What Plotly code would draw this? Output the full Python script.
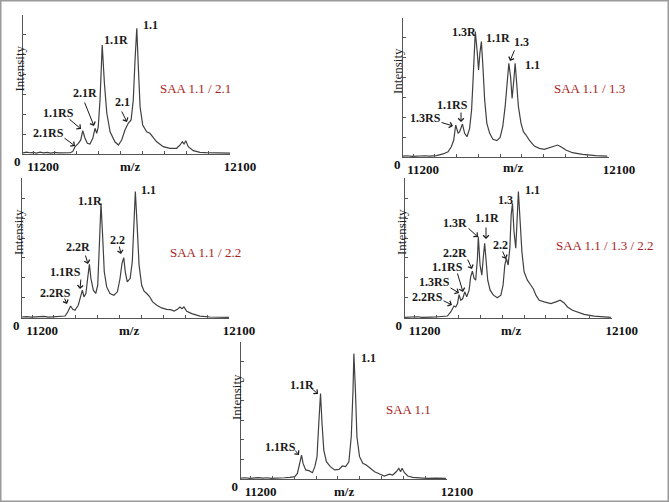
import plotly.graph_objects as go

W, H = 669, 502

# ------------------------------------------------------------------ data
mz_range = [11154, 12100]
x_tick_vals = [11200, 11300, 11400, 11500, 11600, 11700, 11800, 11900, 12000, 12100]
x_tick_text = ["11200", "", "", "", "", "", "", "", "", "12100"]
y_tick_vals = [0, 14.3, 28.6, 42.9, 57.1, 71.4, 85.7]
y_tick_text = ["0", "", "", "", "", "", ""]

sample_names = ["SAA 1.1 / 2.1", "SAA 1.1 / 1.3", "SAA 1.1 / 2.2",
                "SAA 1.1 / 1.3 / 2.2", "SAA 1.1"]

p1_mz = [11154, 11170, 11185, 11200, 11215, 11232, 11248, 11265, 11280, 11300,
         11318, 11335, 11350, 11369, 11381, 11392, 11407, 11418, 11427, 11437,
         11448, 11460, 11473, 11483, 11491, 11498, 11506, 11516, 11526, 11537,
         11552, 11574, 11590, 11605, 11620, 11635, 11648, 11658, 11666, 11674,
         11681, 11689, 11701, 11719, 11734, 11747, 11765, 11795, 11826, 11856,
         11872, 11882, 11890, 11898, 11909, 11932, 11963, 11990, 12031, 12060, 12100]
p1_int = [0.8, 1.4, 0.9, 1.2, 0.7, 1.3, 0.8, 1.1, 0.6, 1.2,
          0.8, 1.0, 0.7, 0.9, 1.7, 5.3, 7.7, 10.1, 16.8, 11.5,
          7.7, 7.2, 11.3, 18.5, 14.9, 19.6, 38.8, 78.4, 50.9, 29.3,
          16.0, 8.8, 6.5, 10.1, 17.3, 22.1, 24.5, 38.8, 67.6, 90.4,
          62.8, 34.0, 20.9, 16.0, 14.9, 12.4, 8.8, 5.3, 4.1, 4.1,
          6.5, 8.8, 7.2, 9.6, 5.3, 2.4, 1.2, 1.0, 0.9, 0.6, 0.7]

p2_mz = [11154, 11175, 11195, 11215, 11235, 11255, 11275, 11290, 11308, 11338,
         11361, 11376, 11387, 11396, 11407, 11414, 11427, 11437, 11448, 11460,
         11469, 11475, 11482, 11486, 11494, 11501, 11507, 11514, 11521, 11529,
         11539, 11552, 11567, 11585, 11600, 11612, 11623, 11632, 11640, 11648,
         11655, 11663, 11669, 11676, 11684, 11696, 11707, 11719, 11734, 11757,
         11780, 11803, 11826, 11849, 11864, 11879, 11902, 11932, 11978, 12039, 12092]
p2_int = [0.6, 0.9, 0.5, 0.8, 0.6, 0.9, 0.7, 0.8, 1.0, 2.2,
          3.8, 7.4, 12.2, 23.0, 17.0, 18.2, 23.7, 17.0, 14.6, 20.6,
          33.8, 53.0, 81.8, 90.2, 77.0, 62.6, 74.6, 83.0, 65.0, 41.0,
          24.2, 17.0, 12.7, 11.8, 14.1, 21.8, 36.2, 55.4, 67.4, 57.8,
          42.2, 55.4, 67.4, 53.0, 36.2, 24.2, 18.2, 15.8, 12.2, 7.9,
          6.2, 5.5, 6.7, 8.2, 8.6, 7.4, 5.0, 3.1, 1.9, 1.0, 0.7]

p3_mz = [11154, 11175, 11195, 11215, 11235, 11255, 11275, 11295, 11315, 11335,
         11351, 11363, 11370, 11376, 11386, 11396, 11411, 11422, 11430, 11437,
         11446, 11454, 11462, 11469, 11480, 11491, 11500, 11507, 11515, 11523,
         11530, 11541, 11556, 11574, 11590, 11602, 11611, 11619, 11626, 11635,
         11648, 11658, 11666, 11672, 11680, 11689, 11701, 11712, 11724, 11736,
         11751, 11770, 11792, 11815, 11833, 11849, 11864, 11876, 11885, 11894,
         11907, 11930, 11967, 12013, 12100]
p3_int = [0.7, 1.0, 0.6, 0.9, 0.7, 1.1, 0.6, 0.9, 0.8, 1.0,
          1.4, 4.3, 7.2, 8.6, 6.2, 5.5, 9.1, 15.1, 19.9, 15.1,
          17.5, 28.2, 38.3, 28.2, 19.9, 17.5, 23.4, 49.8, 82.0, 56.9,
          33.0, 22.2, 17.5, 16.3, 18.7, 28.2, 39.0, 43.1, 33.0, 25.8,
          28.2, 40.2, 66.5, 90.4, 66.5, 37.8, 23.4, 19.1, 17.5, 15.5,
          11.5, 9.1, 7.2, 6.2, 6.0, 5.0, 6.2, 7.9, 6.7, 7.9,
          4.8, 3.1, 1.4, 0.7, 0.5]

p4_mz = [11154, 11175, 11195, 11215, 11235, 11255, 11275, 11295, 11315, 11335,
         11350, 11365, 11374, 11380, 11388, 11396, 11403, 11411, 11420, 11429,
         11438, 11449, 11456, 11464, 11472, 11479, 11487, 11491, 11499, 11507,
         11514, 11520, 11527, 11534, 11545, 11560, 11578, 11594, 11604, 11612,
         11619, 11627, 11635, 11641, 11647, 11654, 11662, 11668, 11674, 11682,
         11690, 11700, 11715, 11731, 11743, 11754, 11769, 11792, 11822, 11845,
         11865, 11883, 11898, 11921, 11944, 11974, 12020, 12096]
p4_int = [0.5, 0.8, 0.6, 0.9, 0.5, 0.8, 0.6, 0.7, 0.9, 0.8,
          1.4, 4.3, 7.2, 8.6, 7.9, 10.3, 16.7, 12.7, 13.9, 18.7,
          15.1, 19.9, 29.4, 33.5, 28.2, 27.0, 42.6, 58.1, 37.8, 30.6,
          43.8, 53.3, 40.2, 27.0, 19.9, 16.3, 14.4, 16.3, 23.4, 37.8,
          42.6, 37.8, 49.8, 73.7, 82.0, 61.7, 49.8, 73.7, 90.4, 68.9,
          47.4, 33.0, 27.0, 23.4, 20.6, 16.3, 12.7, 11.5, 10.3, 11.5,
          12.7, 10.8, 7.9, 5.5, 4.3, 2.6, 1.4, 0.5]

p5_mz = [11154, 11175, 11195, 11215, 11235, 11255, 11275, 11295, 11315, 11335,
         11355, 11379, 11402, 11414, 11425, 11433, 11440, 11452, 11467, 11483,
         11494, 11504, 11512, 11520, 11527, 11535, 11547, 11565, 11585, 11605,
         11620, 11635, 11650, 11661, 11669, 11673, 11680, 11687, 11699, 11714,
         11730, 11748, 11768, 11791, 11813, 11836, 11851, 11867, 11879, 11887,
         11894, 11905, 11920, 11943, 11975, 12004, 12050, 12095]
p5_int = [0.6, 0.9, 0.5, 0.8, 1.0, 0.6, 0.9, 0.5, 0.8, 0.7,
          0.9, 1.2, 1.7, 4.1, 12.6, 17.5, 11.4, 6.6, 6.1, 4.6,
          9.0, 16.3, 40.5, 62.4, 40.5, 21.1, 12.6, 9.0, 6.6, 7.0,
          9.5, 9.0, 12.6, 30.8, 64.8, 91.5, 64.8, 30.8, 16.3, 11.4,
          10.2, 7.8, 5.3, 3.6, 2.2, 3.6, 2.9, 5.3, 7.8, 5.3,
          7.8, 4.6, 2.2, 1.2, 0.8, 0.5, 0.7, 0.5]

spectra = [(p1_mz, p1_int), (p2_mz, p2_int), (p3_mz, p3_int),
           (p4_mz, p4_int), (p5_mz, p5_int)]

# ------------------------------------------------------------------ layout
# panel boxes in pixels: (x_left, x_right, y_top, y_baseline)
boxes = [(23, 230, 15, 154),
         (403, 609, 18, 157),
         (22, 229, 178, 318),
         (404.5, 611.7, 178, 318),
         (240.7, 447, 342, 479)]

def fx(x):
    return x / W

def fy(y):
    return 1 - y / H

SERIF = "Liberation Serif, Times New Roman, serif"
INK = "#1e1e1e"
AXIS = "#555555"
RED = "#a81c22"

fig = go.Figure()
for i, ((mz, inten), (xl, xr, yt, yb)) in enumerate(zip(spectra, boxes)):
    n = "" if i == 0 else str(i + 1)
    fig.add_trace(go.Scatter(x=mz, y=inten, mode="lines",
                             line=dict(color="#404040", width=1.2),
                             xaxis="x" + n, yaxis="y" + n,
                             showlegend=False, hoverinfo="skip"))
    fig.layout["xaxis" + n] = dict(
        domain=[fx(xl), fx(xr)], range=mz_range, anchor="y" + n,
        automargin=False,
        showline=True, linecolor=AXIS, linewidth=1, showgrid=False,
        zeroline=False, tickmode="array", tickvals=x_tick_vals,
        ticktext=["<b>%s</b>" % t if t else "" for t in x_tick_text],
        ticks="inside", ticklen=3, tickcolor=AXIS, tickwidth=1,
        ticklabelshift=10, ticklabelstandoff=0,
        tickfont=dict(family=SERIF, size=13, color="#111"))
    fig.layout["yaxis" + n] = dict(
        domain=[fy(yb), fy(yt)], range=[0, 100], anchor="x" + n,
        automargin=False,
        showline=True, linecolor=AXIS, linewidth=1, showgrid=False,
        zeroline=False, tickmode="array", tickvals=y_tick_vals,
        ticktext=["<b>%s</b>" % t if t else "" for t in y_tick_text],
        ticks="inside", ticklen=3, tickcolor=AXIS, tickwidth=1,
        ticklabelshift=7, ticklabelstandoff=-1,
        tickfont=dict(family=SERIF, size=13, color="#111"))

ann = []

def text(t, x, y, size=12, bold=True, color="#1a1a1a", angle=0):
    ann.append(dict(text=("<b>%s</b>" % t) if bold else t,
                    x=fx(x), y=fy(y), xref="paper", yref="paper",
                    xanchor="center", yanchor="middle", showarrow=False,
                    textangle=angle,
                    font=dict(family=SERIF, size=size, color=color)))

def arrow(x0, y0, x1, y1):
    ann.append(dict(text="", x=fx(x1), y=fy(y1), xref="paper", yref="paper",
                    ax=x0 - x1, ay=y0 - y1, showarrow=True,
                    arrowhead=4, arrowsize=1.1, arrowwidth=1,
                    arrowcolor="#1a1a1a"))

# axis captions
for (cx, cy) in [(18.5, 69), (398, 71), (18, 232), (401, 232), (236, 397)]:
    text("Intensity", cx, cy, size=13, bold=False, color=INK, angle=-90)
for (cx, cy) in [(130, 167), (513, 168), (129, 330), (511, 330), (344, 491)]:
    text("m/z", cx, cy, size=13, bold=True, color="#111")

# sample names
for name, (cx, cy) in zip(sample_names,
                          [(196, 88), (589, 88), (205, 252), (605, 245), (408, 409)]):
    text(name, cx, cy, size=13, bold=False, color=RED)

# panel 1 peak labels
text("1.1", 150, 25); text("1.1R", 116, 40); text("2.1R", 85, 93)
text("2.1", 122, 102); text("1.1RS", 58, 113); text("2.1RS", 49, 133)
arrow(84, 101, 94, 126); arrow(68, 118, 81, 129)
arrow(63, 137, 75, 146); arrow(121, 110, 127, 122)

# panel 2
text("1.3R", 464, 32); text("1.1R", 498, 38); text("1.3", 521, 42)
text("1.1", 532, 65); text("1.1RS", 453, 105); text("1.3RS", 426, 118)
arrow(515, 49, 510, 61); arrow(461, 111, 461, 122); arrow(440, 122, 453, 126)

# panel 3
text("1.1", 148, 190); text("1.1R", 90, 201); text("2.2", 117, 240)
text("2.2R", 78, 247); text("1.1RS", 65, 272); text("2.2RS", 55, 293)
arrow(119, 245, 121, 254); arrow(85, 254, 88, 264)
arrow(81, 278, 80, 289); arrow(64, 297, 67, 304)

# panel 4
text("1.1", 532, 190); text("1.3", 505, 200); text("1.1R", 487, 218)
text("1.3R", 455, 223); text("2.2", 500, 245); text("2.2R", 455, 253)
text("1.1RS", 447, 267); text("1.3RS", 434, 282); text("2.2RS", 427, 297)
arrow(467, 227, 478, 237); arrow(486, 226, 486, 239); arrow(502, 250, 506, 259)
arrow(467, 258, 472, 269); arrow(457, 272, 463, 292); arrow(449, 287, 459, 293)
arrow(442, 300, 452, 305)

# panel 5
text("1.1", 368, 358); text("1.1R", 302, 385); text("1.1RS", 280, 447)
arrow(310, 387, 318, 394); arrow(294, 449, 299, 455)

fig.update_layout(
    width=W, height=H, margin=dict(l=0, r=0, t=0, b=0, autoexpand=False),
    paper_bgcolor="white", plot_bgcolor="white",
    showlegend=False, annotations=ann,
    shapes=[dict(type="rect", xref="paper", yref="paper", x0=0, y0=0, x1=1, y1=1,
                 line=dict(color="#9a9a9a", width=3))])

fig.write_html("out.html",
               config={"displayModeBar": False},
               post_script="document.body.style.margin='0';"
                           "document.body.style.overflow='hidden';")
